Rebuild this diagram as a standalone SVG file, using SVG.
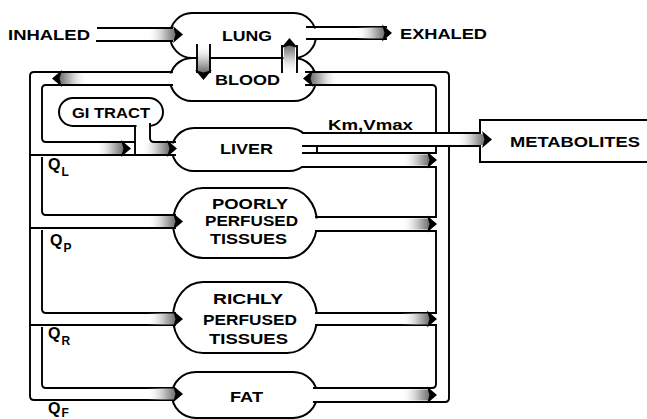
<svg xmlns="http://www.w3.org/2000/svg" width="647" height="419" viewBox="0 0 647 419">
<style>
.n{fill:#fff;stroke:#000;stroke-width:2}
.w{fill:#fff;stroke:none}
.p{fill:none;stroke:#000;stroke-width:1.9;stroke-linecap:square}
text{font-family:"Liberation Sans",Arial,sans-serif;font-weight:bold;fill:#000}
.t{font-size:15px}
.q{font-size:16px}
.s{font-size:12px}
</style>
<defs>
<linearGradient id="stip" x1="0" x2="1" y1="0" y2="0">
<stop offset="0" stop-color="#fff" stop-opacity="0"/>
<stop offset="0.55" stop-color="#c8c8c8"/>
<stop offset="1" stop-color="#6a6a6a"/>
</linearGradient>
<g id="ah">
<rect x="-36" y="-5.5" width="29" height="11" fill="url(#stip)"/>
<path d="M-10,-8.5 L0,0 L-10,8.5 L-7.5,0 Z" fill="#000"/>
</g>
</defs>
<rect width="647" height="419" fill="#fff"/>

<g id="nodes">
<g id="lung"><rect class="n" x="170" y="13" width="146" height="45" rx="22" ry="22.5"/><text class="t" x="222" y="41" textLength="50" lengthAdjust="spacingAndGlyphs">LUNG</text></g>
<g id="blood"><rect class="n" x="170" y="58" width="146" height="43" rx="22" ry="21.5"/><text class="t" x="215" y="85" textLength="65" lengthAdjust="spacingAndGlyphs">BLOOD</text></g>
<g id="gi-tract"><rect class="n" x="59" y="98" width="104" height="28" rx="14" ry="14"/><text class="t" x="72" y="118" font-size="14" textLength="78" lengthAdjust="spacingAndGlyphs">GI TRACT</text></g>
<g id="liver"><rect class="n" x="172" y="128" width="139" height="43" rx="22" ry="21.5"/><text class="t" x="220" y="154" textLength="53" lengthAdjust="spacingAndGlyphs">LIVER</text></g>
<g id="poorly"><rect class="n" x="173" y="188" width="144" height="70" rx="30" ry="35"/>
<text class="t" x="212" y="209" textLength="76" lengthAdjust="spacingAndGlyphs">POORLY</text>
<text class="t" x="205" y="226" textLength="93" lengthAdjust="spacingAndGlyphs">PERFUSED</text>
<text class="t" x="210" y="244" textLength="77" lengthAdjust="spacingAndGlyphs">TISSUES</text></g>
<g id="richly"><rect class="n" x="173" y="282" width="144" height="71" rx="30" ry="35.5"/>
<text class="t" x="213" y="304" textLength="70" lengthAdjust="spacingAndGlyphs">RICHLY</text>
<text class="t" x="203" y="325" textLength="94" lengthAdjust="spacingAndGlyphs">PERFUSED</text>
<text class="t" x="209" y="344" textLength="79" lengthAdjust="spacingAndGlyphs">TISSUES</text></g>
<g id="fat"><rect class="n" x="172" y="372" width="145" height="46" rx="24" ry="23"/><text class="t" x="230" y="402" textLength="33" lengthAdjust="spacingAndGlyphs">FAT</text></g>
<g id="metabolites"><rect class="n" x="480" y="120" width="175" height="42"/><text class="t" x="510" y="147" font-size="16" textLength="130" lengthAdjust="spacingAndGlyphs">METABOLITES</text></g>
</g>

<g id="labels">
<text class="t" x="8" y="40" textLength="82" lengthAdjust="spacingAndGlyphs">INHALED</text>
<text class="t" x="400" y="39" textLength="87" lengthAdjust="spacingAndGlyphs">EXHALED</text>
<text class="t" x="328" y="130" textLength="85" lengthAdjust="spacingAndGlyphs">Km,Vmax</text>
<text class="q" x="48" y="170">Q<tspan class="s" dy="6" dx="1">L</tspan></text>
<text class="q" x="50" y="246">Q<tspan class="s" dy="6" dx="1">P</tspan></text>
<text class="q" x="48" y="339">Q<tspan class="s" dy="6" dx="1">R</tspan></text>
<text class="q" x="48" y="414">Q<tspan class="s" dy="3" dx="1">F</tspan></text>
</g>

<g id="connectors">
<rect class="w" x="164" y="29.5" width="16" height="10.5"/>
<rect class="w" x="304" y="28.5" width="17" height="9.5"/>
<rect class="w" x="164" y="73.5" width="16" height="10.5"/>
<rect class="w" x="304" y="73.5" width="17" height="10.5"/>
<rect class="w" x="198.5" y="48" width="10.5" height="22"/>
<rect class="w" x="283.5" y="48" width="12.5" height="22"/>
<rect class="w" x="136.5" y="118" width="12.5" height="14"/>
<rect class="w" x="166" y="143.5" width="14" height="10.5"/>
<rect class="w" x="300" y="134" width="18" height="32"/>
<rect class="w" x="167" y="216.5" width="14" height="10.5"/>
<rect class="w" x="308" y="218.5" width="15" height="11.5"/>
<rect class="w" x="167" y="314" width="14" height="10"/>
<rect class="w" x="308" y="314" width="15" height="10"/>
<rect class="w" x="166" y="389" width="14" height="10"/>
<rect class="w" x="308" y="389" width="15" height="12"/>
<rect class="w" x="476" y="134" width="10" height="11"/>

<path class="p" d="M98,28 H172 M97,41 H172"/>
<path class="p" d="M307,27 H386 M307,39 H386"/>
<path class="p" d="M197,45 V72 M210,45 V72"/>
<path class="p" d="M282,72 V46 M297,72 V46"/>

<path class="p" d="M172,72 H34 Q30,72 30,76 V396 Q30,400 34,400 H174"/>
<path class="p" d="M172,85 H46 Q42,85 42,89 V138 Q42,142 46,142 H135"/>
<path class="p" d="M30,155 H175"/>
<path class="p" d="M135,126 V155"/>
<path class="p" d="M150,124 V138 Q150,142 154,142 H175"/>
<path class="p" d="M42,158 V211 Q42,215 46,215 H175"/>
<path class="p" d="M30,228 H175"/>
<path class="p" d="M42,231 V309 Q42,313 46,313 H175"/>
<path class="p" d="M30,325 H175"/>
<path class="p" d="M42,328 V384 Q42,388 46,388 H174"/>

<path class="p" d="M306,72 H445 Q449,72 449,76 V133 M449,146 V398 Q449,402 445,402 H314"/>
<path class="p" d="M306,85 H432 Q436,85 436,89 V133 M436,146 V153 M436,167 V217 M436,231 V313 M436,325 V384 Q436,388 432,388 H314"/>

<path class="p" d="M303,133 H480 M303,146 H480 M317,146 V153"/>
<path class="p" d="M303,153 H436 M303,167 H436"/>
<path class="p" d="M316,217 H436 M316,231 H436"/>
<path class="p" d="M316,313 H436 M316,325 H436"/>

<use href="#ah" transform="translate(183,34.5)"/>
<use href="#ah" transform="translate(392,33)"/>
<use href="#ah" transform="translate(203.5,80) rotate(90)"/>
<use href="#ah" transform="translate(289.5,38) rotate(-90)"/>
<use href="#ah" transform="translate(52,78.5) rotate(180)"/>
<use href="#ah" transform="translate(303,78.5) rotate(180)"/>
<use href="#ah" transform="translate(131,148.5)"/>
<use href="#ah" transform="translate(177,148.5)"/>
<use href="#ah" transform="translate(183,221.5)"/>
<use href="#ah" transform="translate(183,319)"/>
<use href="#ah" transform="translate(183,394)"/>
<use href="#ah" transform="translate(492,139.5)"/>
<use href="#ah" transform="translate(437,160)"/>
<use href="#ah" transform="translate(437,224)"/>
<use href="#ah" transform="translate(437,319)"/>
<use href="#ah" transform="translate(437,395)"/>
</g>
</svg>
